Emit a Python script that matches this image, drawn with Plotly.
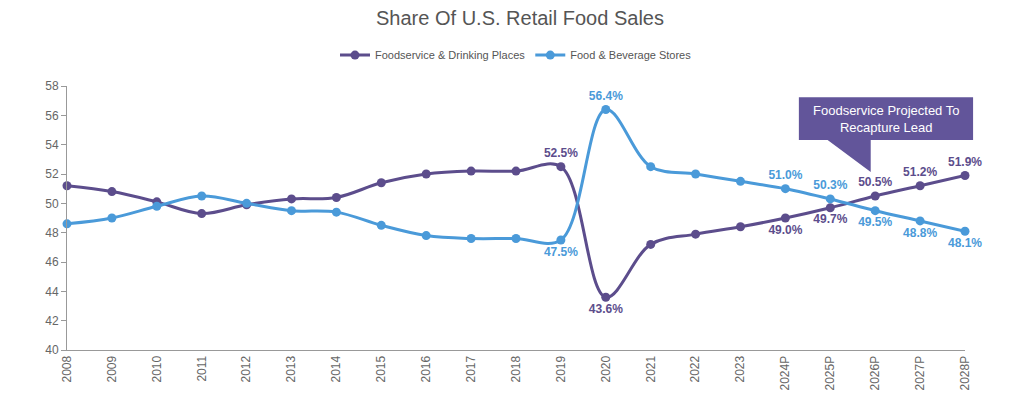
import plotly.graph_objs as go

years = ['2008', '2009', '2010', '2011', '2012', '2013', '2014', '2015', '2016',
         '2017', '2018', '2019', '2020', '2021', '2022', '2023',
         '2024P', '2025P', '2026P', '2027P', '2028P']

foodservice = [51.2, 50.8, 50.1, 49.3, 49.9, 50.3, 50.4, 51.4, 52.0,
               52.2, 52.2, 52.5, 43.6, 47.2, 47.9, 48.4,
               49.0, 49.7, 50.5, 51.2, 51.9]
food_stores = [48.6, 49.0, 49.8, 50.5, 50.0, 49.5, 49.4, 48.5, 47.8,
               47.6, 47.6, 47.5, 56.4, 52.5, 52.0, 51.5,
               51.0, 50.3, 49.5, 48.8, 48.1]

# which points get a data label, and where
labelled = ['2019', '2020', '2024P', '2025P', '2026P', '2027P', '2028P']
fs_pos = {'2019': 'top center', '2020': 'bottom center', '2024P': 'bottom center',
          '2025P': 'bottom center', '2026P': 'top center', '2027P': 'top center',
          '2028P': 'top center'}
fb_pos = {'2019': 'bottom center', '2020': 'top center', '2024P': 'top center',
          '2025P': 'top center', '2026P': 'bottom center', '2027P': 'bottom center',
          '2028P': 'bottom center'}

PURPLE = '#5c4d8c'
BLUE = '#4a9ad9'
BOX = '#62559a'


def labels(vals):
    return ['%.1f%%' % v if y in labelled else '' for y, v in zip(years, vals)]


def positions(pos):
    return [pos.get(y, 'top center') for y in years]


def main():
    fig = go.Figure()
    fig.add_trace(go.Scatter(
        x=years, y=foodservice, name='Foodservice & Drinking Places',
        mode='lines+markers+text', line=dict(color=PURPLE, width=3, shape='spline', smoothing=1),
        marker=dict(size=9, color=PURPLE),
        text=labels(foodservice), textposition=positions(fs_pos),
        textfont=dict(color=PURPLE, size=12, weight='bold'),
        cliponaxis=False))
    fig.add_trace(go.Scatter(
        x=years, y=food_stores, name='Food & Beverage Stores',
        mode='lines+markers+text', line=dict(color=BLUE, width=3, shape='spline', smoothing=1),
        marker=dict(size=9, color=BLUE),
        text=labels(food_stores), textposition=positions(fb_pos),
        textfont=dict(color=BLUE, size=12, weight='bold'),
        cliponaxis=False))

    fig.update_layout(
        width=1024, height=400,
        margin=dict(l=59, r=67, t=78, b=58),
        paper_bgcolor='white', plot_bgcolor='white',
        font=dict(family='Arial, Liberation Sans, sans-serif', size=11, color='#666666'),
        title=dict(text='Share Of U.S. Retail Food Sales', x=0.5, xanchor='center',
                   y=0.975, yanchor='middle',
                   font=dict(size=20, color='#555555')),
        legend=dict(orientation='h', x=0.5, xanchor='center', y=1.117, yanchor='middle',
                    font=dict(size=11, color='#555555'), itemwidth=30),
        showlegend=True,
    )
    fig.update_xaxes(
        type='category', range=[0, 20], tickangle=-90,
        showline=True, linecolor='#999999', linewidth=1,
        showgrid=False, ticks='', tickfont=dict(size=12, color='#666666'))
    fig.update_yaxes(
        range=[40, 58], dtick=2, showline=True, linecolor='#999999', linewidth=1,
        showgrid=False, zeroline=False, ticks='outside', ticklen=5, tickcolor='#999999',
        tickfont=dict(size=12, color='#666666'))

    # callout box with tail pointing at 2026P
    fig.add_shape(type='path', xref='paper', yref='paper',
                  path='M 0.815 0.957 L 1.009 0.957 L 1.009 0.795 L 0.895 0.795 '
                       'L 0.895 0.674 L 0.847 0.795 L 0.815 0.795 Z',
                  fillcolor=BOX, line=dict(width=0))
    fig.add_annotation(xref='paper', yref='paper', x=0.912, y=0.876,
                       xanchor='center', yanchor='middle',
                       text='Foodservice Projected To<br>Recapture Lead', showarrow=False,
                       font=dict(color='white', size=13))

    fig.write_html('out.html')


if __name__ == '__main__':
    main()
